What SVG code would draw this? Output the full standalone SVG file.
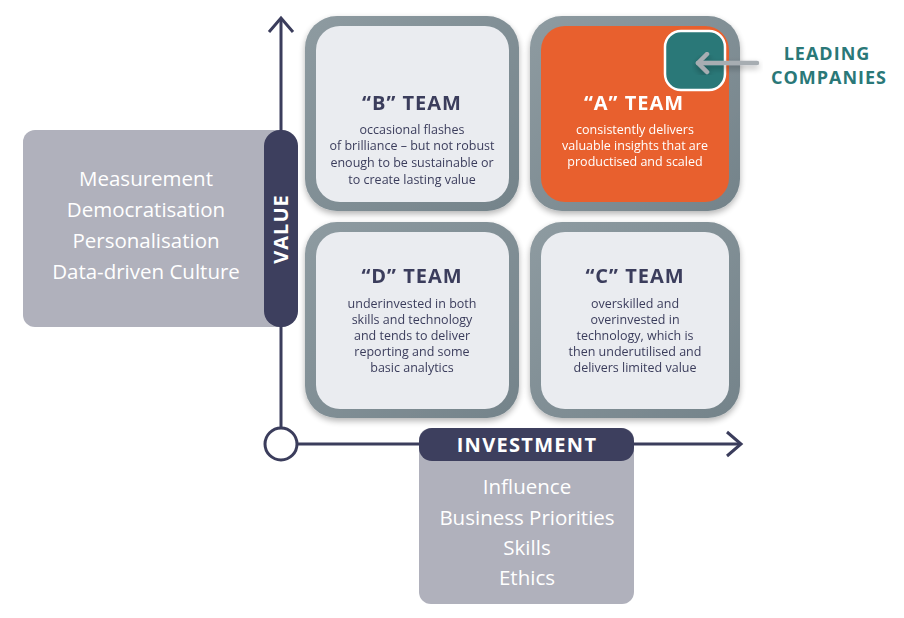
<svg xmlns="http://www.w3.org/2000/svg" width="904" height="618" viewBox="0 0 904 618">
<style>
.inner{fill:#eaecf0;}
.title{font-family:"Open Sans","Liberation Sans",sans-serif;font-weight:700;font-size:20px;letter-spacing:1px;fill:#3b3d5c;text-anchor:middle;}
.body{font-family:"Open Sans","Liberation Sans",sans-serif;font-size:12.5px;fill:#3b3d5c;text-anchor:middle;}
.list{font-family:"Open Sans","Liberation Sans",sans-serif;font-size:20.5px;fill:#ffffff;text-anchor:middle;}
.axis{stroke:#3b3d5c;stroke-width:3;fill:none;}
.pill{fill:#3d3f5e;}
.grey{fill:#b0b1bc;}
.lead{font-family:"Open Sans","Liberation Sans",sans-serif;font-weight:700;font-size:18px;letter-spacing:1px;fill:#2a7878;text-anchor:middle;}
</style>
<defs>
<filter id="sh" x="-10%" y="-10%" width="120%" height="125%">
<feGaussianBlur in="SourceAlpha" stdDeviation="3"/>
<feOffset dy="3"/>
<feComponentTransfer><feFuncA type="linear" slope="0.3"/></feComponentTransfer>
<feMerge><feMergeNode/><feMergeNode in="SourceGraphic"/></feMerge>
</filter>
<linearGradient id="fg" x1="0" y1="0" x2="1" y2="1">
<stop offset="0" stop-color="#8e9ba1"/>
<stop offset="1" stop-color="#74838a"/>
</linearGradient>
</defs>

<g id="left-box">
<rect x="23" y="130" width="270" height="197" rx="12" class="grey"/>
<text class="list" x="146" y="186">Measurement</text>
<text class="list" x="146" y="217">Democratisation</text>
<text class="list" x="146" y="248">Personalisation</text>
<text class="list" x="146" y="279">Data-driven Culture</text>
</g>

<g id="bottom-box">
<rect x="419" y="428" width="215" height="176" rx="12" class="grey"/>
<text class="list" x="527" y="494">Influence</text>
<text class="list" x="527" y="525">Business Priorities</text>
<text class="list" x="527" y="555">Skills</text>
<text class="list" x="527" y="585">Ethics</text>
</g>

<g id="connectors">
<line class="axis" x1="281" y1="20" x2="281" y2="428"/>
<path class="axis" d="M269,32 L281,18 L293,32"/>
<line class="axis" x1="297" y1="444" x2="741" y2="444"/>
<path class="axis" d="M727,432 L741,444 L727,456"/>
<circle cx="281" cy="444" r="16" fill="#ffffff" stroke="#3b3d5c" stroke-width="3"/>
</g>

<g id="value-pill">
<rect x="264" y="130" width="34" height="197" rx="16" class="pill"/>
<text class="title" style="fill:#ffffff" transform="translate(288 229) rotate(-90)" x="0" y="0">VALUE</text>
</g>

<g id="investment-pill">
<rect x="419" y="428" width="215" height="33" rx="13" class="pill"/>
<text class="title" style="fill:#ffffff;letter-spacing:1.3px" x="527" y="452">INVESTMENT</text>
</g>

<g id="team-b" filter="url(#sh)">
<rect x="305" y="16" width="214" height="195" rx="32" fill="url(#fg)"/>
<rect x="316" y="26" width="193" height="176" rx="24" class="inner"/>
<text class="title" x="412" y="110">“B” TEAM</text>
<text class="body" x="412" y="134">occasional flashes</text>
<text class="body" x="412" y="150">of brilliance – but not robust</text>
<text class="body" x="412" y="167">enough to be sustainable or</text>
<text class="body" x="412" y="184">to create lasting value</text>
</g>

<g id="team-a" filter="url(#sh)">
<rect x="530" y="16" width="210" height="195" rx="32" fill="url(#fg)"/>
<rect x="541" y="26" width="188" height="176" rx="24" fill="#e8612e"/>
<text class="title" style="fill:#ffffff" x="634" y="110">“A” TEAM</text>
<text class="body" style="fill:#ffffff" x="635" y="134">consistently delivers</text>
<text class="body" style="fill:#ffffff" x="635" y="150">valuable insights that are</text>
<text class="body" style="fill:#ffffff" x="635" y="166">productised and scaled</text>
</g>

<g id="team-d" filter="url(#sh)">
<rect x="305" y="222" width="214" height="196" rx="32" fill="url(#fg)"/>
<rect x="316" y="232" width="193" height="177" rx="24" class="inner"/>
<text class="title" x="412" y="283">“D” TEAM</text>
<text class="body" x="412" y="308">underinvested in both</text>
<text class="body" x="412" y="324">skills and technology</text>
<text class="body" x="412" y="340">and tends to deliver</text>
<text class="body" x="412" y="356">reporting and some</text>
<text class="body" x="412" y="372">basic analytics</text>
</g>

<g id="team-c" filter="url(#sh)">
<rect x="530" y="222" width="210" height="196" rx="32" fill="url(#fg)"/>
<rect x="541" y="232" width="188" height="177" rx="24" class="inner"/>
<text class="title" x="635" y="283">“C” TEAM</text>
<text class="body" x="635" y="308">overskilled and</text>
<text class="body" x="635" y="324">overinvested in</text>
<text class="body" x="635" y="340">technology, which is</text>
<text class="body" x="635" y="356">then underutilised and</text>
<text class="body" x="635" y="372">delivers limited value</text>
</g>

<g id="leading-companies">
<rect x="665" y="31" width="60" height="59" rx="16" fill="#2a7878" stroke="#ffffff" stroke-width="2.5"/>
<g filter="url(#sh)" stroke="#a7adb2" stroke-width="4.5" stroke-linecap="round" stroke-linejoin="round" fill="none">
<path d="M757,63 L698,63"/>
<path d="M707,54 L698,63 L707,72"/>
</g>
<text class="lead" x="827" y="60">LEADING</text>
<text class="lead" x="829" y="84">COMPANIES</text>
</g>
</svg>
